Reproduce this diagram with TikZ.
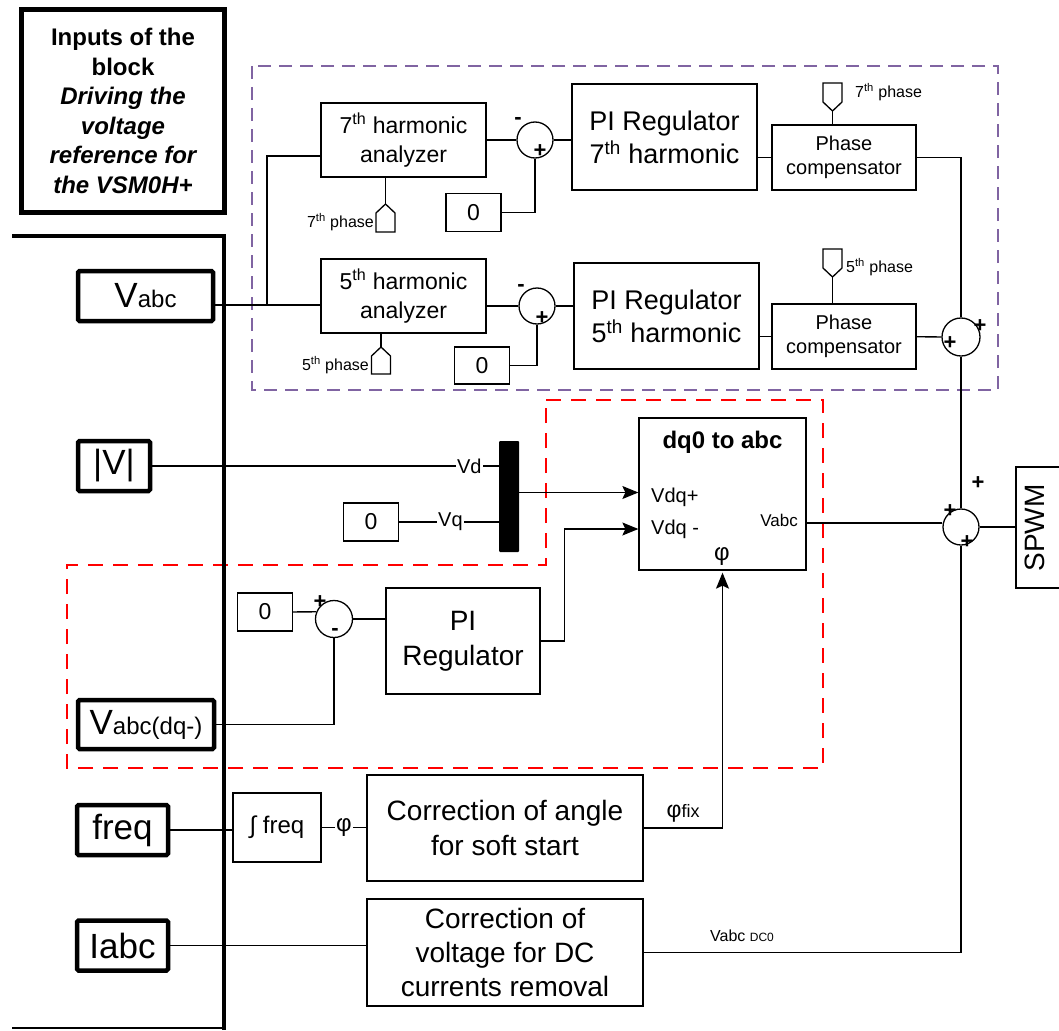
\documentclass[tikz,border=0pt]{standalone}
\usepackage{fontspec}
\setmainfont{Liberation Sans}
\usepackage{tikz}
\usetikzlibrary{
  arrows.meta,
  positioning
}
\definecolor{hpurple}{RGB}{128,100,162}
\newcommand{\fsz}[2]{\fontsize{#1}{#2}\selectfont}

\begin{document}
\begin{tikzpicture}[x=1pt,y=-1pt,
  wire/.style={line width=1.3pt},
  arrow/.style={wire,-{Stealth[length=16pt,width=13pt,inset=3pt]}},
  blk/.style={draw,line width=1.3pt,align=center,inner sep=0pt},
  inbox/.style={draw,line width=4.5pt,rounded corners=1.5pt,inner sep=0pt,font=\fsz{35}{40}},
  zerobox/.style={blk,minimum width=55pt,minimum height=38pt,font=\fsz{23}{27}},
  sumc/.style={circle,draw,line width=1.3pt,minimum size=36pt,inner sep=0pt},
  sgn/.style={font=\bfseries\fsz{22}{22},inner sep=0pt},
  lbl/.style={inner sep=1pt},
  phin/.style={wire,line join=miter},
  harmbox/.style={blk,minimum width=165pt,minimum height=74pt,font=\fsz{23}{29}},
  pibox/.style={blk,minimum width=185pt,minimum height=106pt,font=\fsz{27}{33}},
  compbox/.style={blk,minimum width=144pt,minimum height=65pt,font=\fsz{20}{24}}
]
\useasboundingbox (0,0) rectangle (1059,1030);

% ---- dashed frames ----
\draw[hpurple,line width=2pt,dash pattern=on 13pt off 8pt] (252,66) rectangle (998,390);
\draw[red,line width=2.5pt,dash pattern=on 15pt off 10pt]
  (546,400) -- (823,400) -- (823,768) -- (67,768) -- (67,565) -- (546,565) -- cycle;

% ---- inputs of the block ----
\node[draw,line width=5pt,minimum width=203pt,minimum height=203pt,align=center,
  font=\bfseries\fsz{24}{29.5}] (title) at (123,111)
  {Inputs of the\\block\\\itshape Driving the\\\itshape voltage\\\itshape reference for\\\itshape the VSM0H+};
\draw[line width=4.5pt] (12,236) -- (224,236) -- (224,1030);
\draw[line width=2.5pt] (12,1028) -- (224,1028);

\node[inbox,minimum width=135pt,minimum height=50pt] (vabc) at (145.5,296) {V{\fsz{24}{28}abc}};
\node[inbox,minimum width=72pt,minimum height=50pt]  (vmag) at (114,466)   {|V|};
\node[inbox,minimum width=136pt,minimum height=49pt] (vneg) at (146,724.5) {V{\fsz{24}{28}abc(dq-)}};
\node[inbox,minimum width=91pt,minimum height=50pt]  (freq) at (122.5,830) {freq};
\node[inbox,minimum width=91pt,minimum height=50pt]  (iabc) at (122.5,945.5) {Iabc};

% ---- 7th / 5th harmonic compensation ----
\node[harmbox] (an7) at (403.5,140) {7\textsuperscript{th} harmonic\\analyzer};
\node[harmbox] (an5) at (403.5,296) {5\textsuperscript{th} harmonic\\analyzer};
\node[sumc] (s7) at (535,140) {};
\node[sumc] (s5) at (537,306) {};
\node[zerobox] (z7) at (473.5,212.5) {0};
\node[zerobox,minimum height=37pt] (z5) at (482,365.5) {0};
\node[pibox] (pi7) at (664.5,137) {PI Regulator\\7\textsuperscript{th} harmonic};
\node[pibox] (pi5) at (666.5,316) {PI Regulator\\5\textsuperscript{th} harmonic};
\node[compbox] (pc7) at (844,157.5) {Phase\\compensator};
\node[compbox] (pc5) at (844,336.5) {Phase\\compensator};
\node[sumc,minimum size=38pt] (sh) at (961,337) {};

% phase inputs (tip of each pentagon)
\coordinate (ph7a) at (385.5,204);
\coordinate (ph5a) at (381,347);
\coordinate (ph7c) at (832.5,111);
\coordinate (ph5c) at (832.5,277);
\draw[phin] (ph7a) -- ++(9.5,9) -- ++(0,19) -- ++(-19,0) -- ++(0,-19) -- cycle;
\draw[phin] (ph5a) -- ++(9.5,9) -- ++(0,18) -- ++(-19,0) -- ++(0,-18) -- cycle;
\draw[phin] (ph7c) -- ++(9.5,-9) -- ++(0,-19) -- ++(-19,0) -- ++(0,19) -- cycle;
\draw[phin] (ph5c) -- ++(9.5,-9) -- ++(0,-19) -- ++(-19,0) -- ++(0,19) -- cycle;
\node[lbl,anchor=east,font=\fsz{16}{18}] at (375,222) {7\textsuperscript{th} phase};
\node[lbl,anchor=east,font=\fsz{16}{18}] at (370,365) {5\textsuperscript{th} phase};
\node[lbl,anchor=west,font=\fsz{16}{18}] at (854,92) {7\textsuperscript{th} phase};
\node[lbl,anchor=west,font=\fsz{16}{18}] at (845,267) {5\textsuperscript{th} phase};

\coordinate (vj) at (267,305);
\draw[wire] ([yshift=-9pt]vabc.east) -- ([yshift=-9pt]an5.west);
\draw[wire] (vj) |- ([yshift=-16pt]an7.west);
\draw[wire] (an7) -- (s7);
\draw[wire] ([yshift=-10pt]an5.east) -- (s5.west);
\draw[wire] (z7) -| (s7);
\draw[wire] (z5) -| (s5);
\draw[wire] (s7) -- (s7 -| pi7.west);
\draw[wire] (s5) -- (s5 -| pi5.west);
\draw[wire] (pi7.east |- pc7) -- (pc7);
\draw[wire] (pi5.east |- pc5) -- (pc5);
\draw[wire] (pc7) -| (sh);
\draw[wire] (pc5) -- (sh);
\draw[wire] (ph7a) -- (ph7a |- an7.south);
\draw[wire] (ph5a) -- (ph5a |- an5.south);
\draw[wire] (ph7c) -- (ph7c |- pc7.north);
\draw[wire] (ph5c) -- (ph5c |- pc5.north);

% ---- positive sequence: dq0 to abc ----
\node[fill=black,minimum width=20pt,minimum height=111pt,inner sep=0pt,rounded corners=1pt] (mux) at (509,496.5) {};
\node[zerobox] (zq) at (371,522) {0};
\node[blk,minimum width=167pt,minimum height=152pt] (dq) at (722.5,494) {};
\node[font=\bfseries\fsz{24}{28}] (dqt) at (722.5,442) {dq0 to abc};
\node[lbl,anchor=west,font=\fsz{20}{24}] (dqp) at (650,497) {Vdq+};
\node[lbl,anchor=west,font=\fsz{20}{24}] (dqn) at (650,529) {Vdq -};
\node[lbl,anchor=east,font=\fsz{17}{20}] (dqo) at (799,520) {Vabc};
\node[fill=white,inner sep=1pt,font=\fsz{24}{28}] (dqphi) at (722,557) {φ};

\draw[wire] (vmag) -- (vmag -| mux.west)
  node[pos=0.915,fill=white,inner sep=1pt,font=\fsz{20}{24}] {Vd};
\draw[wire] (zq) -- (zq -| mux.west)
  node[pos=0.515,fill=white,inner sep=1pt,font=\fsz{20}{24}] {Vq};
\draw[arrow] ([yshift=4pt]mux.east) -- ([yshift=4pt]mux.east -| dq.west);

% ---- negative sequence regulation ----
\node[zerobox] (z0) at (265,612) {0};
\node[sumc,minimum size=37pt] (sn) at (334,619) {};
\node[blk,minimum width=154pt,minimum height=106pt,font=\fsz{28}{35}] (pir) at (463,641) {PI\\Regulator};
\draw[wire] (z0) -- (sn.158);
\draw[wire] (vneg) -| (sn);
\draw[wire] (sn) -- (sn -| pir.west);
\draw[arrow] (pir.east) -- ++(24,0) |- ([yshift=-35pt]dq.west);

% ---- angle and DC correction ----
\node[blk,minimum width=88pt,minimum height=69pt,font=\fsz{24}{28}] (integ) at (277,827.5) {∫ freq};
\node[blk,minimum width=276pt,minimum height=106pt,font=\fsz{28}{35}] (corA) at (505,828) {Correction of angle\\for soft start};
\node[blk,minimum width=276pt,minimum height=107pt,font=\fsz{28}{34}] (corD) at (505,952.5) {Correction of\\voltage for DC\\currents removal};
\draw[wire] (freq) -- (freq -| integ.west);
\draw[wire] (integ) -- (integ -| corA.west)
  node[midway,fill=white,inner sep=1pt,font=\fsz{24}{28}] {φ};
\draw[arrow] (corA) -| ([yshift=-2pt]dq.south)
  node[pos=0.25,above=4pt,inner sep=1pt,font=\fsz{23}{26}] {φ{\fsz{18}{20}fix}};
\draw[wire] (iabc) -- (iabc -| corD.west);

% ---- summation and SPWM ----
\node[sumc] (sf) at (961,527) {};
\node[blk,minimum width=46pt,minimum height=121pt] (spwm) at (1039,527.5) {};
\node[rotate=90,font=\fsz{28}{32}] (spwmt) at (1035,528) {SPWM};
\draw[wire] (sh) -- (sf);
\draw[wire] (sf) -- (sf -| spwm.west);
\draw[wire] ([yshift=-29pt]dq.east) -- ([yshift=-29pt]dq.east -| sf.west);
\draw[wire] (corD) -| (sf)
  node[pos=0.155,above=9pt,inner sep=1pt,font=\fsz{16}{18}] {Vabc {\fsz{12}{14}DC0}};

\foreach \x/\y/\s in {518/121/-, 540/151/+, 521/288/-, 542/318/+, 980/326/+, 950/343/+,
                      978/483/+, 950/511/+, 967/542/+, 320/602/+, 335/632/-}
  \node[sgn] at (\x,\y) {\s};
\end{tikzpicture}
\end{document}
